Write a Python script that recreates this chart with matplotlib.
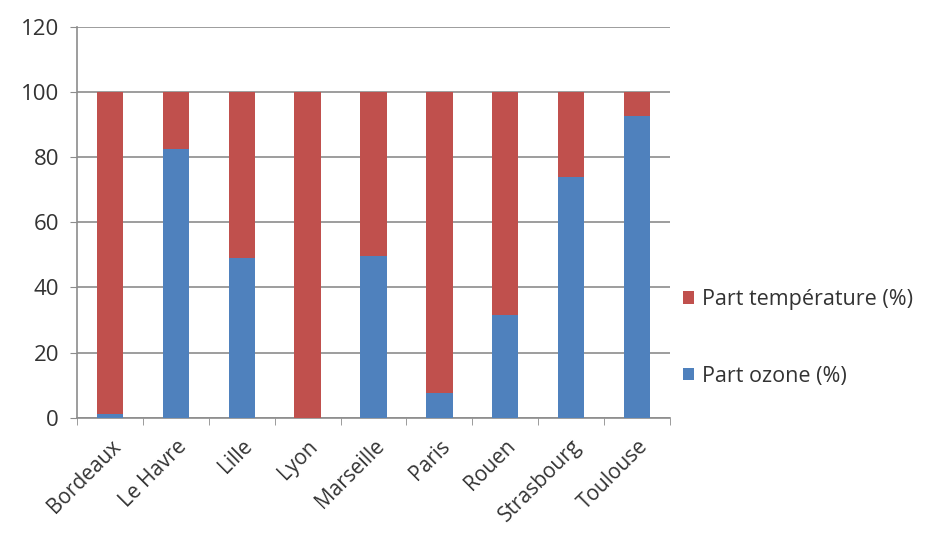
import matplotlib
matplotlib.use("Agg")
import matplotlib.pyplot as plt
import numpy as np

cities = ["Bordeaux", "Le Havre", "Lille", "Lyon", "Marseille", "Paris", "Rouen", "Strasbourg", "Toulouse"]
ozone = [1, 82.5, 49, 0, 49.5, 7.5, 31.5, 74, 92.5]
temperature = [99, 17.5, 51, 100, 50.5, 92.5, 68.5, 26, 7.5]
yticks = [0, 20, 40, 60, 80, 100, 120]

plt.rcParams['font.family'] = ['Open Sans', 'DejaVu Sans']

fig = plt.figure(figsize=(9.4, 5.33), dpi=100)
ax = fig.add_axes([77/940, 1 - 417.7/533, (670 - 77)/940, (417.7 - 26.7)/533])

x = np.arange(len(cities))
red = "#C0504D"
blue = "#4F81BD"
b1 = ax.bar(x, ozone, width=0.4, color=blue, label="Part ozone (%)", zorder=3)
b2 = ax.bar(x, temperature, width=0.4, bottom=ozone, color=red, label="Part température (%)", zorder=3)

ax.set_xlim(-0.5, len(cities) - 0.5)
ax.set_ylim(0, 120)
ax.set_yticks(yticks)
ax.set_yticklabels([str(v) for v in yticks], fontsize=16, color="#333333")
ax.yaxis.grid(True, color="#8c8c8c", linewidth=1.2, zorder=0)
ax.tick_params(axis='y', length=5, color="#8c8c8c", pad=8)

ax.set_xticks(x)
ax.set_xticklabels(cities, rotation=45, ha='right', rotation_mode='anchor', fontsize=15, color="#333333")
ax.tick_params(axis='x', length=0, pad=13)
ax.set_xticks(np.arange(-0.5, len(cities), 1.0), minor=True)
ax.tick_params(axis='x', which='minor', length=5, color="#8c8c8c")

for s in ['top', 'right']:
    ax.spines[s].set_visible(False)
for s in ['left', 'bottom']:
    ax.spines[s].set_color("#8c8c8c")
    ax.spines[s].set_linewidth(1.2)

handles = [b2, b1]
labels = ["Part température (%)", "Part ozone (%)"]
fig.legend(handles, labels, loc='center left', bbox_to_anchor=(664/940, 1 - 338/533),
           frameon=False, fontsize=15.5, handlelength=0.5, handleheight=0.5,
           handletextpad=0.35, labelspacing=2.6, labelcolor="#333333")

fig.savefig("out.png", dpi=100)
